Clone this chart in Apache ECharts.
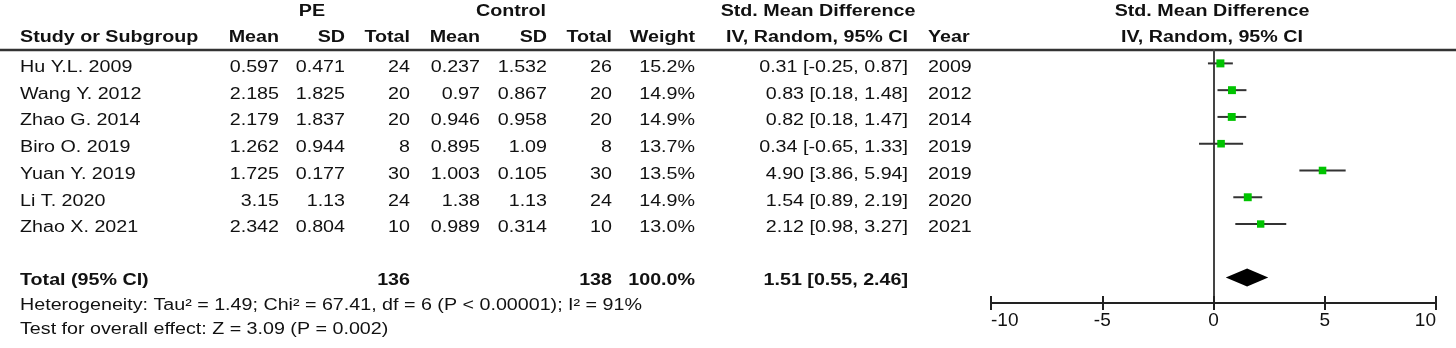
<!DOCTYPE html>
<html>
<head>
<meta charset="utf-8">
<title>Forest plot - PE vs Control</title>
<script src="https://cdn.jsdelivr.net/npm/echarts@6/dist/echarts.min.js"></script>
<style>
    html, body { margin: 0; padding: 0; background: #fff; }
    #chart { width: 1456px; height: 348px; }
</style>
</head>
<body>
<div id="chart"></div>
<script>
    // 研究数据
    const studies = ['Hu Y.L. 2009', 'Wang Y. 2012', 'Zhao G. 2014', 'Biro O. 2019', 'Yuan Y. 2019', 'Li T. 2020', 'Zhao X. 2021']
    const peMean = [0.597, 2.185, 2.179, 1.262, 1.725, 3.15, 2.342]
    const peSD = [0.471, 1.825, 1.837, 0.944, 0.177, 1.13, 0.804]
    const peTotal = [24, 20, 20, 8, 30, 24, 10]
    const ctMean = [0.237, 0.97, 0.946, 0.895, 1.003, 1.38, 0.989]
    const ctSD = [1.532, 0.867, 0.958, 1.09, 0.105, 1.13, 0.314]
    const ctTotal = [26, 20, 20, 8, 30, 24, 10]
    const weight = [15.2, 14.9, 14.9, 13.7, 13.5, 14.9, 13.0]
    const smd = [0.31, 0.83, 0.82, 0.34, 4.90, 1.54, 2.12]
    const ciLow = [-0.25, 0.18, 0.18, -0.65, 3.86, 0.89, 0.98]
    const ciHigh = [0.87, 1.48, 1.47, 1.33, 5.94, 2.19, 3.27]
    const years = [2009, 2012, 2014, 2019, 2019, 2020, 2021]

    // 合并结果
    const totalPE = 136
    const totalCT = 138
    const totalWeight = 100.0
    const pooled = [1.51, 0.55, 2.46]
    const heterogeneity = 'Heterogeneity: Tau² = 1.49; Chi² = 67.41, df = 6 (P < 0.00001); I² = 91%'
    const overallTest = 'Test for overall effect: Z = 3.09 (P = 0.002)'

    // x轴刻度
    const xTicks = [-10, -5, 0, 5, 10]

    const TOTAL_ROW = 8 // 合计行所在的行号
    const SX = 1.23 // 原图文字横向拉伸
    const FONT_SIZE = 16
    const FONT = '"Liberation Sans", Arial, sans-serif'
    const INK = '#111'
    const LEFT = 20

    const ci = (e, l, h) => `${e.toFixed(2)} [${l.toFixed(2)}, ${h.toFixed(2)}]`

    // 表格列（x为像素位置）
    const columns = [
        {x: LEFT, align: 'left', get: i => studies[i]},
        {x: 279, align: 'right', get: i => String(peMean[i])},
        {x: 345, align: 'right', get: i => String(peSD[i])},
        {x: 410, align: 'right', get: i => String(peTotal[i])},
        {x: 480, align: 'right', get: i => String(ctMean[i])},
        {x: 547, align: 'right', get: i => String(ctSD[i])},
        {x: 612, align: 'right', get: i => String(ctTotal[i])},
        {x: 695, align: 'right', get: i => weight[i].toFixed(1) + '%'},
        {x: 908, align: 'right', get: i => ci(smd[i], ciLow[i], ciHigh[i])},
        {x: 928, align: 'left', get: i => String(years[i])}
    ]

    const totalCells = [
        {x: LEFT, align: 'left', text: 'Total (95% CI)'},
        {x: 410, align: 'right', text: String(totalPE)},
        {x: 612, align: 'right', text: String(totalCT)},
        {x: 695, align: 'right', text: totalWeight.toFixed(1) + '%'},
        {x: 908, align: 'right', text: ci(pooled[0], pooled[1], pooled[2])}
    ]

    const headers = [
        {x: 312, y: 12, align: 'center', text: 'PE'},
        {x: 511, y: 12, align: 'center', text: 'Control'},
        {x: 818, y: 12, align: 'center', text: 'Std. Mean Difference'},
        {x: 1212, y: 12, align: 'center', text: 'Std. Mean Difference'},
        {x: LEFT, y: 38, align: 'left', text: 'Study or Subgroup'},
        {x: 279, y: 38, align: 'right', text: 'Mean'},
        {x: 345, y: 38, align: 'right', text: 'SD'},
        {x: 410, y: 38, align: 'right', text: 'Total'},
        {x: 480, y: 38, align: 'right', text: 'Mean'},
        {x: 547, y: 38, align: 'right', text: 'SD'},
        {x: 612, y: 38, align: 'right', text: 'Total'},
        {x: 695, y: 38, align: 'right', text: 'Weight'},
        {x: 908, y: 38, align: 'right', text: 'IV, Random, 95% CI'},
        {x: 928, y: 38, align: 'left', text: 'Year'},
        {x: 1212, y: 38, align: 'center', text: 'IV, Random, 95% CI'}
    ]

    function textEl(x, y, text, align, bold) {
        return {
            type: 'text',
            x: x,
            y: y,
            scaleX: SX,
            silent: true,
            style: {
                text: text,
                align: align,
                verticalAlign: 'middle',
                fontSize: FONT_SIZE,
                fontWeight: bold ? 'bold' : 'normal',
                fontFamily: FONT,
                fill: INK
            }
        }
    }

    const chart = echarts.init(document.getElementById('chart'))

    const option = {
        animation: false,
        backgroundColor: '#fff',
        textStyle: {fontFamily: FONT},
        grid: {left: 991, right: 20, top: 50, bottom: 45, outerBoundsMode: 'none'},
        xAxis: [
            {
                type: 'value',
                min: -10,
                max: 10,
                interval: 5,
                position: 'bottom',
                axisLine: {onZero: false, lineStyle: {color: '#222', width: 2}},
                axisTick: {length: 7, lineStyle: {color: '#222', width: 2}},
                axisLabel: {
                    fontSize: 19, color: INK, fontFamily: FONT, margin: 8,
                    showMinLabel: true, showMaxLabel: true,
                    alignMinLabel: 'left', alignMaxLabel: 'right',
                    customValues: xTicks
                },
                splitLine: {show: false}
            },
            {
                // 向上的刻度
                type: 'value',
                min: -10,
                max: 10,
                interval: 5,
                position: 'bottom',
                axisLine: {show: false, onZero: false},
                axisTick: {inside: true, length: 7, lineStyle: {color: '#222', width: 2}},
                axisLabel: {show: false},
                splitLine: {show: false}
            }
        ],
        yAxis: {
            type: 'value',
            min: -0.5,
            max: 8.95,
            inverse: true,
            axisLine: {show: true, onZero: true, lineStyle: {color: '#444', width: 2}},
            axisTick: {show: false},
            axisLabel: {show: false},
            splitLine: {show: false}
        },
        graphic: [
            {
                type: 'line',
                shape: {x1: 0, y1: 50, x2: 1456, y2: 50},
                style: {stroke: '#333', lineWidth: 2.5},
                silent: true
            },
            ...headers.map(h => textEl(h.x, h.y, h.text, h.align, true)),
            textEl(LEFT, 306, heterogeneity, 'left', false),
            textEl(LEFT, 330, overallTest, 'left', false)
        ],
        series: [
            {
                // 表格各行文字
                type: 'custom',
                name: 'table',
                silent: true,
                clip: false,
                data: studies.map((s, i) => [0, i]),
                renderItem(params, api) {
                    const i = api.value(1)
                    const y = api.coord([0, i])[1] + 4
                    return {
                        type: 'group',
                        children: columns.map(c => textEl(c.x, y, c.get(i), c.align, false))
                    }
                }
            },
            {
                // 合计行文字
                type: 'custom',
                name: 'total',
                silent: true,
                clip: false,
                data: [[0, TOTAL_ROW]],
                renderItem(params, api) {
                    const y = api.coord([0, api.value(1)])[1] + 3
                    return {
                        type: 'group',
                        children: totalCells.map(c => textEl(c.x, y, c.text, c.align, true))
                    }
                }
            },
            {
                // 各研究的效应量与置信区间
                type: 'custom',
                name: 'studies',
                silent: true,
                data: studies.map((s, i) => [smd[i], i, ciLow[i], ciHigh[i], weight[i]]),
                encode: {x: [0, 2, 3], y: 1},
                renderItem(params, api) {
                    const row = api.value(1)
                    const p = api.coord([api.value(0), row])
                    const lo = api.coord([api.value(2), row])
                    const hi = api.coord([api.value(3), row])
                    const size = 8 * Math.sqrt(api.value(4) / 15.2)
                    return {
                        type: 'group',
                        children: [
                            {
                                type: 'line',
                                shape: {x1: lo[0], y1: lo[1], x2: hi[0], y2: hi[1]},
                                style: {stroke: '#333', lineWidth: 2}
                            },
                            {
                                type: 'rect',
                                shape: {x: p[0] - size / 2, y: p[1] - size / 2, width: size, height: size},
                                style: {fill: '#00c400'}
                            }
                        ]
                    }
                }
            },
            {
                // 合并效应量菱形
                type: 'custom',
                name: 'pooled',
                silent: true,
                data: [[pooled[0], TOTAL_ROW, pooled[1], pooled[2]]],
                encode: {x: [0, 2, 3], y: 1},
                renderItem(params, api) {
                    const row = api.value(1)
                    const c = api.coord([api.value(0), row])
                    const lo = api.coord([api.value(2), row])
                    const hi = api.coord([api.value(3), row])
                    const h = 9
                    return {
                        type: 'polygon',
                        shape: {points: [[lo[0], c[1]], [c[0], c[1] - h], [hi[0], c[1]], [c[0], c[1] + h]]},
                        style: {fill: '#000'}
                    }
                }
            }
        ]
    }

    chart.setOption(option)
</script>
</body>
</html>
